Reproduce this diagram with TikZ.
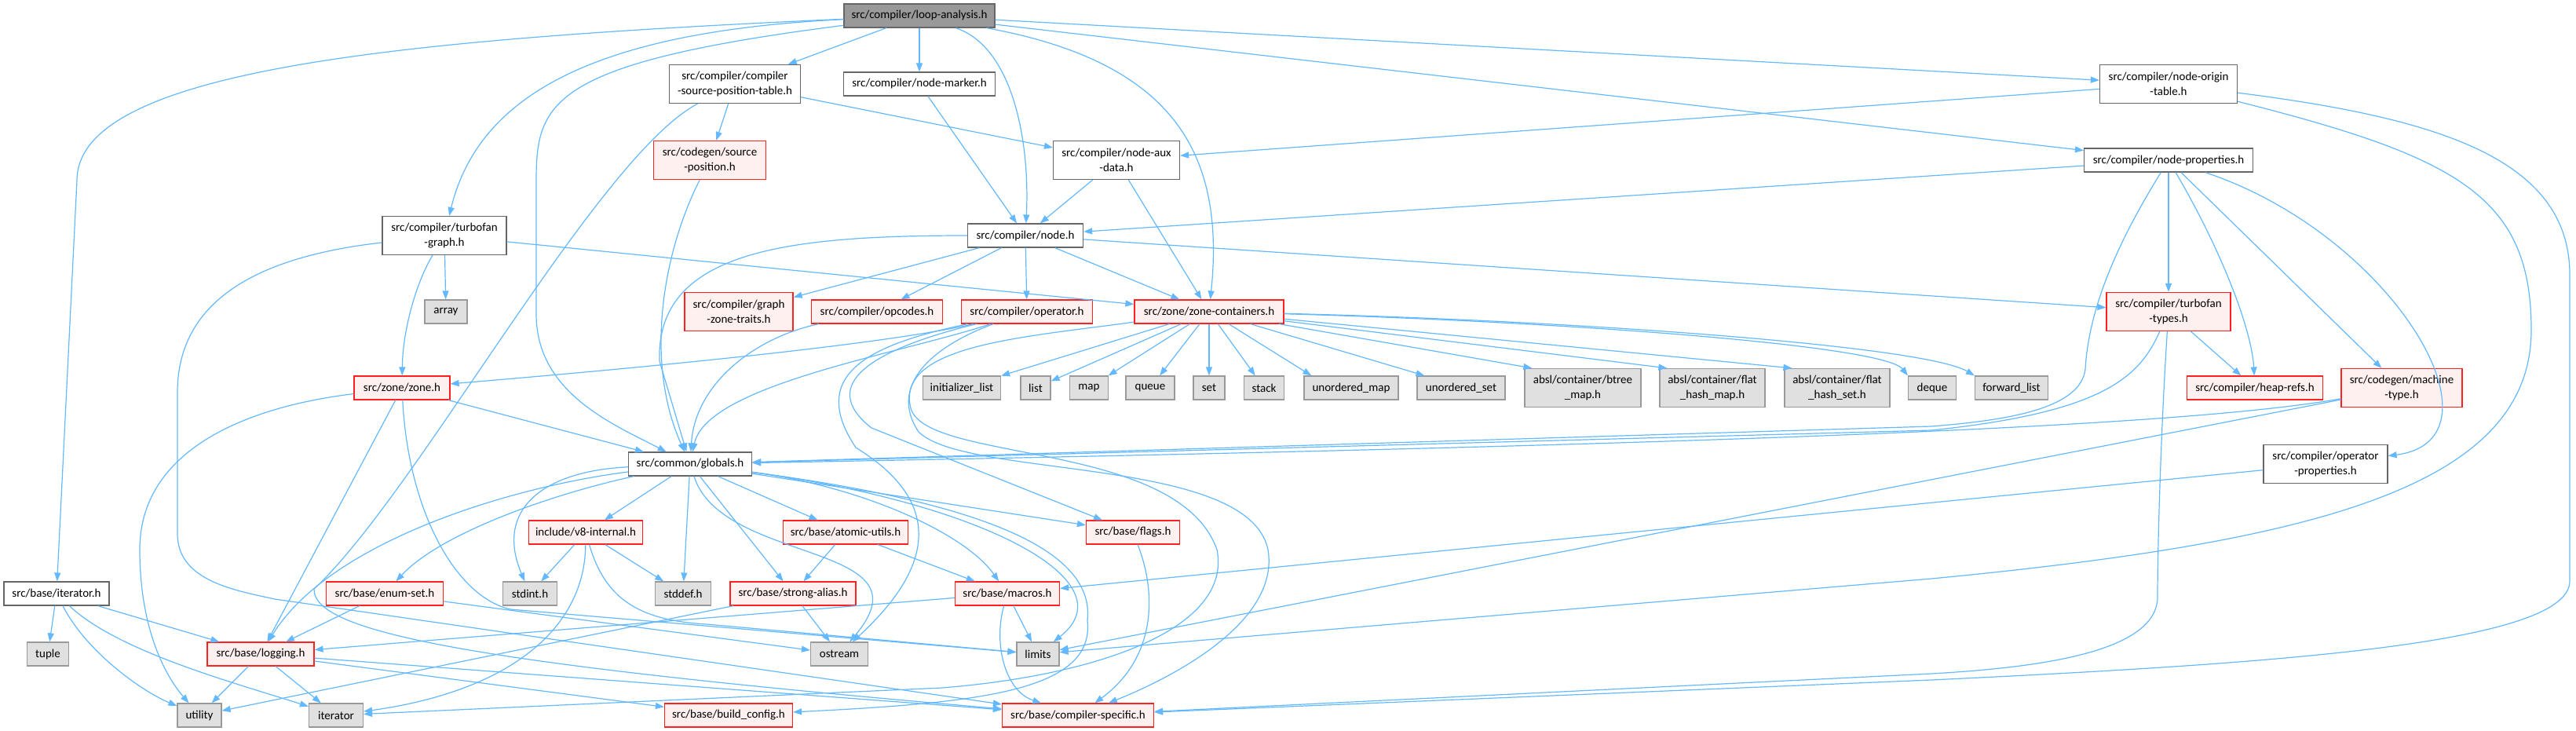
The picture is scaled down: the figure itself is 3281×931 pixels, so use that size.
\documentclass[tikz,border=0pt]{standalone}
\usepackage{fontspec}
\setmainfont{Carlito}
\usetikzlibrary{arrows.meta}

\definecolor{edgeblue}{HTML}{63B8FF}
\definecolor{boxgray}{HTML}{666666}
\definecolor{rootfill}{HTML}{999999}
\definecolor{truncfill}{HTML}{FFF0F0}
\definecolor{truncdraw}{HTML}{FF2020}
\definecolor{sysfill}{HTML}{E0E0E0}
\definecolor{sysdraw}{HTML}{999999}

\tikzset{
  hdr/.style={draw=boxgray, fill=white, line width=1.2pt, font=\fontsize{15}{19}\selectfont,
    align=center, inner xsep=3pt, inner ysep=0pt, minimum height=30pt},
  hdrroot/.style={hdr, fill=rootfill},
  hdrtrunc/.style={hdr, draw=truncdraw, fill=truncfill},
  hdrsys/.style={hdr, draw=sysdraw, fill=sysfill},
  twoline/.style={minimum height=49pt},
  incl/.style={draw=edgeblue, line width=1.2pt, -{Triangle[length=11pt,width=8pt]}}
}

\begin{document}
\begin{tikzpicture}[x=1pt, y=-1pt]
\useasboundingbox (0,0) rectangle (3281,931);
\node[hdrroot, minimum width=192pt] (loop) at (1171,20) {src/compiler/loop-analysis.h};
\node[hdr, twoline, minimum width=167pt] (srctable) at (936,107) {src/compiler/compiler\\-source-position-table.h};
\node[hdr, minimum width=193pt] (marker) at (1171,107) {src/compiler/node-marker.h};
\node[hdr, twoline, minimum width=175pt] (origin) at (2762,107) {src/compiler/node-origin\\-table.h};
\node[hdrtrunc, twoline, minimum width=143pt] (srcpos) at (904,204) {src/codegen/source\\-position.h};
\node[hdr, twoline, minimum width=161pt] (auxdata) at (1422,204) {src/compiler/node-aux\\-data.h};
\node[hdr, minimum width=215pt] (nprops) at (2762,204) {src/compiler/node-properties.h};
\node[hdr, twoline, minimum width=158pt] (tfgraph) at (566,300) {src/compiler/turbofan\\-graph.h};
\node[hdr, minimum width=147pt] (node) at (1306,300) {src/compiler/node.h};
\node[hdrsys, minimum width=54pt] (array) at (568,397) {array};
\node[hdrtrunc, twoline, minimum width=138pt] (gzt) at (941,397) {src/compiler/graph\\-zone-traits.h};
\node[hdrtrunc, minimum width=167pt] (opcodes) at (1117,397) {src/compiler/opcodes.h};
\node[hdrtrunc, minimum width=167pt] (operator) at (1308,397) {src/compiler/operator.h};
\node[hdrtrunc, minimum width=190pt] (zcont) at (1540,397) {src/zone/zone-containers.h};
\node[hdrtrunc, twoline, minimum width=158pt] (tftypes) at (2762,397) {src/compiler/turbofan\\-types.h};
\node[hdrtrunc, minimum width=122pt] (zone) at (512,494) {src/zone/zone.h};
\node[hdrsys, minimum width=99pt] (initlist) at (1225,494) {initializer\_list};
\node[hdrsys, minimum width=38pt] (stdlist) at (1319,494) {list};
\node[hdrsys, minimum width=49pt] (stdmap) at (1387,494) {map};
\node[hdrsys, minimum width=62pt] (stdqueue) at (1465,494) {queue};
\node[hdrsys, minimum width=40pt] (stdset) at (1540,494) {set};
\node[hdrsys, minimum width=51pt] (stdstack) at (1610,494) {stack};
\node[hdrsys, minimum width=120pt] (umap) at (1721,494) {unordered\_map};
\node[hdrsys, minimum width=112pt] (uset) at (1861,494) {unordered\_set};
\node[hdrsys, twoline, minimum width=148pt] (btree) at (2016,494) {absl/container/btree\\\_map.h};
\node[hdrsys, twoline, minimum width=134pt] (fhmap) at (2181,494) {absl/container/flat\\\_hash\_map.h};
\node[hdrsys, twoline, minimum width=134pt] (fhset) at (2340,494) {absl/container/flat\\\_hash\_set.h};
\node[hdrsys, minimum width=61pt] (deque) at (2461,494) {deque};
\node[hdrsys, minimum width=93pt] (fwdlist) at (2562,494) {forward\_list};
\node[hdrtrunc, minimum width=173pt] (heaprefs) at (2872,494) {src/compiler/heap-refs.h};
\node[hdrtrunc, twoline, minimum width=154pt] (mtype) at (3059,494) {src/codegen/machine\\-type.h};
\node[hdr, minimum width=157pt] (globals) at (879,591) {src/common/globals.h};
\node[hdr, twoline, minimum width=158pt] (opprops) at (2962,591) {src/compiler/operator\\-properties.h};
\node[hdrtrunc, minimum width=145pt] (v8int) at (746,678) {include/v8-internal.h};
\node[hdrtrunc, minimum width=159pt] (atomic) at (1077,678) {src/base/atomic-utils.h};
\node[hdrtrunc, minimum width=119pt] (flags) at (1443,678) {src/base/flags.h};
\node[hdr, minimum width=134pt] (iterh) at (72,756) {src/base/iterator.h};
\node[hdrtrunc, minimum width=149pt] (enumset) at (490,756) {src/base/enum-set.h};
\node[hdrsys, minimum width=69pt] (stdint) at (675,756) {stdint.h};
\node[hdrsys, minimum width=71pt] (stddef) at (870,756) {stddef.h};
\node[hdrtrunc, minimum width=160pt] (stralias) at (1010,756) {src/base/strong-alias.h};
\node[hdrtrunc, minimum width=133pt] (macros) at (1283,756) {src/base/macros.h};
\node[hdrsys, minimum width=53pt] (tuple) at (61,833) {tuple};
\node[hdrtrunc, minimum width=136pt] (logging) at (332,833) {src/base/logging.h};
\node[hdrsys, minimum width=73pt] (ostream) at (1069,833) {ostream};
\node[hdrsys, minimum width=54pt] (limits) at (1322,833) {limits};
\node[hdrsys, minimum width=56pt] (utility) at (254,911) {utility};
\node[hdrsys, minimum width=69pt] (iterator) at (428,911) {iterator};
\node[hdrtrunc, minimum width=163pt] (buildcfg) at (928,911) {src/base/build\_config.h};
\node[hdrtrunc, minimum width=193pt] (cspec) at (1373,911) {src/base/compiler-specific.h};

\draw[incl] (loop) .. controls (500,50) and (98,90) .. (98,230) -- (iterh);
\draw[incl] (loop) .. controls (760,40) and (610,120) .. (tfgraph);
\draw[incl] (loop) .. controls (700,80) and (683,130) .. (683,230) -- (683,400) .. controls (683,500) and (780,540) .. (globals);
\draw[incl] (loop) -- (srctable);
\draw[incl] (loop) -- (marker);
\draw[incl] (loop) .. controls (1290,60) and (1312,180) .. (node);
\draw[incl] (loop) .. controls (1500,80) and (1560,200) .. (zcont);
\draw[incl] (loop) -- (origin);
\draw[incl] (loop) -- (nprops);
\draw[incl] (srctable) -- (srcpos);
\draw[incl] (srctable) -- (auxdata);
\draw[incl] (srctable) .. controls (760,200) and (530,630) .. (400,750) .. controls (398,805) and (600,845) .. (cspec);
\draw[incl] (marker) -- (node);
\draw[incl] (origin) -- (auxdata);
\draw[incl] (origin) .. controls (3130,200) and (3224,250) .. (3224,420) .. controls (3224,620) and (2950,690) .. (2460,737) -- (limits);
\draw[incl] (origin) .. controls (3100,150) and (3273,200) .. (3273,350) -- (3273,740) .. controls (3273,820) and (2900,845) .. (2460,866) -- (cspec);
\draw[incl] (srcpos) .. controls (845,320) and (820,460) .. (globals);
\draw[incl] (auxdata) -- (node);
\draw[incl] (auxdata) -- (zcont);
\draw[incl] (nprops) -- (node);
\draw[incl] (nprops) .. controls (2690,320) and (2660,400) .. (2656,470) .. controls (2650,520) and (2560,535) .. (2460,543) -- (globals);
\draw[incl] (nprops) -- (tftypes);
\draw[incl] (nprops) .. controls (2830,320) and (2868,420) .. (heaprefs);
\draw[incl] (nprops) -- (mtype);
\draw[incl] (nprops) .. controls (3050,300) and (3200,560) .. (opprops);
\draw[incl] (tfgraph) -- (array);
\draw[incl] (tfgraph) .. controls (530,360) and (513,420) .. (zone);
\draw[incl] (tfgraph) -- (zcont);
\draw[incl] (tfgraph) .. controls (300,330) and (226,400) .. (226,500) -- (226,680) .. controls (226,740) and (300,752) .. (350,763) -- (cspec);
\draw[incl] (node) .. controls (1000,300) and (835,320) .. (840,460) -- (globals);
\draw[incl] (node) -- (gzt);
\draw[incl] (node) -- (opcodes);
\draw[incl] (node) -- (operator);
\draw[incl] (node) -- (zcont);
\draw[incl] (node) -- (tftypes);
\draw[incl] (opcodes) .. controls (960,430) and (885,490) .. (globals);
\draw[incl] (operator) .. controls (1120,440) and (800,470) .. (zone);
\draw[incl] (operator) .. controls (1150,450) and (900,490) .. (globals);
\draw[incl] (operator) .. controls (1100,440) and (1030,480) .. (1090,570) .. controls (1220,650) and (1170,740) .. (ostream);
\draw[incl] (operator) .. controls (1110,445) and (1040,490) .. (1110,545) -- (flags);
\draw[incl] (operator) .. controls (1190,440) and (1130,490) .. (1170,550) .. controls (1230,610) and (1590,580) .. (1615,700) .. controls (1630,790) and (1500,860) .. (cspec);
\draw[incl] (zcont) -- (initlist);
\draw[incl] (zcont) -- (stdlist);
\draw[incl] (zcont) -- (stdmap);
\draw[incl] (zcont) -- (stdqueue);
\draw[incl] (zcont) -- (stdset);
\draw[incl] (zcont) -- (stdstack);
\draw[incl] (zcont) -- ([xshift=10pt]umap.north west);
\draw[incl] (zcont) -- ([xshift=10pt]uset.north west);
\draw[incl] (zcont) -- ([xshift=10pt]btree.north west);
\draw[incl] (zcont) -- ([xshift=10pt]fhmap.north west);
\draw[incl] (zcont) -- ([xshift=10pt]fhset.north west);
\draw[incl] (zcont) .. controls (2000,410) and (2400,440) .. (deque.north west);
\draw[incl] (zcont) .. controls (2000,408) and (2450,440) .. (fwdlist.north west);
\draw[incl] (zcont) .. controls (1300,430) and (1140,440) .. (1160,520) .. controls (1180,590) and (1500,560) .. (1550,700) .. controls (1570,800) and (1400,860) .. (1200,876) -- (iterator);
\draw[incl] (tftypes) -- (heaprefs);
\draw[incl] (tftypes) .. controls (2725,480) and (2680,525) .. (2460,548) -- (globals);
\draw[incl] (tftypes) .. controls (2752,550) and (2748,700) .. (2748,760) .. controls (2748,830) and (2600,850) .. (2460,858) -- (cspec);
\draw[incl] (mtype) .. controls (2800,540) and (2300,565) .. (globals);
\draw[incl] (mtype) -- (limits);
\draw[incl] (opprops) -- (macros);
\draw[incl] (zone) -- (globals);
\draw[incl] (zone) -- (logging);
\draw[incl] (zone) .. controls (300,520) and (178,580) .. (178,700) .. controls (178,800) and (210,860) .. (utility);
\draw[incl] (zone) .. controls (520,650) and (580,760) .. (650,776) -- (limits);
\draw[incl] (globals) -- (v8int);
\draw[incl] (globals) .. controls (690,600) and (630,650) .. (stdint);
\draw[incl] (globals) .. controls (650,620) and (420,690) .. (logging);
\draw[incl] (globals) .. controls (700,630) and (560,680) .. (enumset);
\draw[incl] (globals) -- (stddef);
\draw[incl] (globals) -- (stralias);
\draw[incl] (globals) .. controls (920,720) and (1190,690) .. (ostream);
\draw[incl] (globals) -- (atomic);
\draw[incl] (globals) .. controls (1100,620) and (1230,680) .. (macros);
\draw[incl] (globals) .. controls (1250,640) and (1440,740) .. (limits);
\draw[incl] (globals) -- (flags);
\draw[incl] (globals) .. controls (1250,640) and (1395,700) .. (1385,790) .. controls (1395,880) and (1250,895) .. (buildcfg);
\draw[incl] (v8int) -- (stdint);
\draw[incl] (v8int) -- (stddef);
\draw[incl] (v8int) .. controls (745,800) and (650,880) .. (iterator);
\draw[incl] (v8int) .. controls (770,760) and (810,790) .. (900,795) -- (limits);
\draw[incl] (atomic) -- (stralias);
\draw[incl] (atomic) -- (macros);
\draw[incl] (flags) .. controls (1475,760) and (1470,840) .. (cspec);
\draw[incl] (iterh) -- (tuple);
\draw[incl] (iterh) -- (logging);
\draw[incl] (iterh) .. controls (110,830) and (180,880) .. (utility);
\draw[incl] (iterh) .. controls (150,830) and (300,870) .. (iterator);
\draw[incl] (enumset) -- (logging);
\draw[incl] (enumset) -- (ostream);
\draw[incl] (stralias) -- (ostream);
\draw[incl] (stralias) -- (utility);
\draw[incl] (macros) -- (logging);
\draw[incl] (macros) -- (limits);
\draw[incl] (macros) .. controls (1265,820) and (1280,880) .. (cspec);
\draw[incl] (logging) -- (utility);
\draw[incl] (logging) -- (iterator);
\draw[incl] (logging) -- (buildcfg);
\draw[incl] (logging) -- (cspec);
\end{tikzpicture}
\end{document}
